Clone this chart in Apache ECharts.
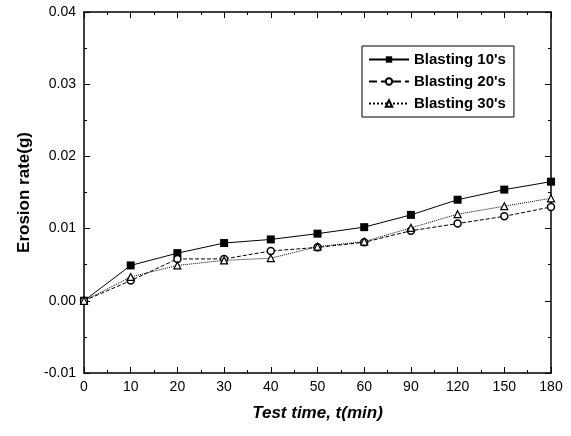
<!DOCTYPE html>
<html lang="en">
<head>
    <meta charset="UTF-8">
    <title>Erosion rate</title>
</head>
<body style="margin:0;background:#fff;">
    <div id="main" style="width:571px;height:436px;"></div>
    <script src="https://cdn.jsdelivr.net/npm/echarts@6/dist/echarts.min.js"></script>
    <script>
        // test time categories (evenly spaced on the axis)
        var timeLabels = ['0', '10', '20', '30', '40', '50', '60', '90', '120', '150', '180'];
        var blasting10 = [0.0, 0.0049, 0.0066, 0.0080, 0.0085, 0.0093, 0.0102, 0.0119, 0.0140, 0.0154, 0.0165];
        var blasting20 = [0.0, 0.0028, 0.0058, 0.0058, 0.0069, 0.0074, 0.0081, 0.0097, 0.0107, 0.0117, 0.0130];
        var blasting30 = [0.0, 0.0033, 0.0049, 0.0056, 0.0059, 0.0075, 0.0082, 0.0101, 0.0120, 0.0131, 0.0142];

        var myChart = echarts.init(document.getElementById('main'));

        function pairs(arr) {
            var out = [];
            for (var i = 0; i < arr.length; i++) {
                out.push([i, arr[i]]);
            }
            return out;
        }

        var font = 'Liberation Sans, Arial, sans-serif';

        function xAx(pos, showLabel) {
            return {
                type: 'value',
                position: pos,
                min: 0,
                max: timeLabels.length - 1,
                interval: 1,
                axisLine: { show: true, onZero: false, lineStyle: { color: '#000', width: 1.5 } },
                axisTick: { show: true, inside: true, length: 6, lineStyle: { color: '#000' } },
                minorTick: { show: true, splitNumber: 2, length: 3, lineStyle: { color: '#000' } },
                splitLine: { show: false },
                axisLabel: {
                    show: showLabel,
                    color: '#000',
                    fontSize: 14,
                    fontFamily: font,
                    margin: 7,
                    formatter: function (v) { return timeLabels[v]; }
                }
            };
        }

        function yAx(pos, showLabel) {
            return {
                type: 'value',
                position: pos,
                min: -0.01,
                max: 0.04,
                interval: 0.01,
                axisLine: { show: true, onZero: false, lineStyle: { color: '#000', width: 1.5 } },
                axisTick: { show: true, inside: true, length: 6, lineStyle: { color: '#000' } },
                minorTick: { show: true, splitNumber: 2, length: 3, lineStyle: { color: '#000' } },
                splitLine: { show: false },
                axisLabel: {
                    show: showLabel,
                    color: '#000',
                    fontSize: 14,
                    fontFamily: font,
                    margin: 8,
                    formatter: function (v) { return v.toFixed(2); }
                }
            };
        }

        var xMain = xAx('bottom', true);
        xMain.name = 'Test time, t(min)';
        xMain.nameLocation = 'middle';
        xMain.nameGap = 32;
        xMain.nameTextStyle = { color: '#000', fontSize: 17, fontWeight: 'bold', fontStyle: 'italic', fontFamily: font };

        var yMain = yAx('left', true);
        yMain.name = 'Erosion rate(g)';
        yMain.nameLocation = 'middle';
        yMain.nameGap = 46;
        yMain.nameTextStyle = { color: '#000', fontSize: 17, fontWeight: 'bold', fontFamily: font };

        var option = {
            animation: false,
            backgroundColor: '#fff',
            grid: { left: 84, right: 20, top: 12, bottom: 63 },
            xAxis: [xMain, xAx('top', false)],
            yAxis: [yMain, yAx('right', false)],
            legend: {
                left: 362,
                top: 46,
                orient: 'vertical',
                backgroundColor: '#fff',
                borderColor: '#000',
                borderWidth: 1,
                borderRadius: 0,
                padding: [6, 8, 6, 6],
                itemGap: 7,
                itemWidth: 40,
                itemHeight: 8,
                textStyle: { color: '#000', fontSize: 15, fontWeight: 'bold', fontFamily: font },
                data: ['Blasting 10\'s', 'Blasting 20\'s', 'Blasting 30\'s']
            },
            series: [
                {
                    name: 'Blasting 10\'s',
                    type: 'line',
                    data: pairs(blasting10),
                    symbol: 'rect',
                    symbolSize: 8,
                    itemStyle: { color: '#000' },
                    lineStyle: { color: '#000', width: 1 }
                },
                {
                    name: 'Blasting 20\'s',
                    type: 'line',
                    data: pairs(blasting20),
                    symbol: 'circle',
                    symbolSize: 7,
                    itemStyle: { color: '#fff', borderColor: '#000', borderWidth: 1.5 },
                    lineStyle: { color: '#000', width: 1, type: 'dashed' }
                },
                {
                    name: 'Blasting 30\'s',
                    type: 'line',
                    data: pairs(blasting30),
                    symbol: 'triangle',
                    symbolSize: 7,
                    itemStyle: { color: '#fff', borderColor: '#000', borderWidth: 1.2 },
                    lineStyle: { color: '#000', width: 1, type: 'dotted' }
                }
            ]
        };

        myChart.setOption(option);
    </script>
</body>
</html>
